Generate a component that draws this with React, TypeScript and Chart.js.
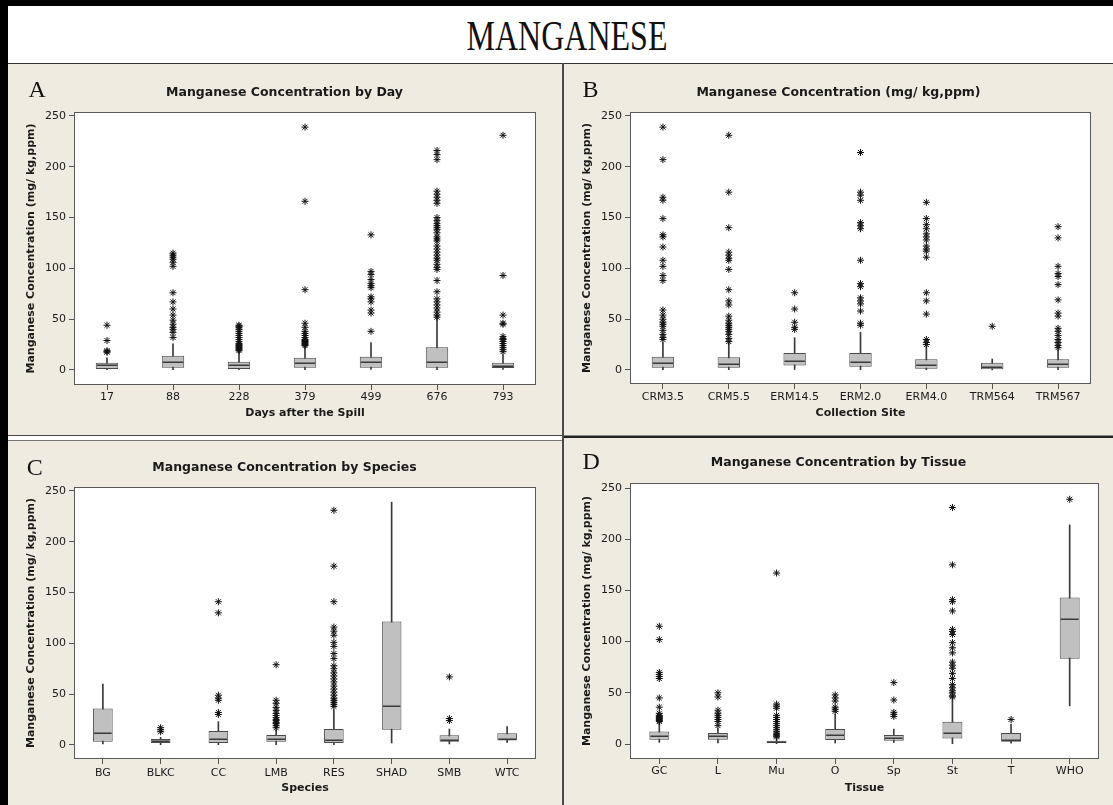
import React, { useEffect, useRef } from 'react';
import { Chart, registerables } from 'chart.js';

Chart.register(...registerables);

// ---------- DATA ----------
const Y_TICKS = [0, 50, 100, 150, 200, 250];
const Y_TITLE = 'Manganese Concentration (mg/ kg,ppm)';

// Panel A: by day
const DAY_CATS = ['17', '88', '228', '379', '499', '676', '793'];
const DAY_Q1 = [1.0, 2.3, 1.0, 2.3, 2.3, 2.3, 2.0];
const DAY_MED = [4.6, 7.5, 4.9, 6.6, 7.5, 7.5, 4.3];
const DAY_Q3 = [7.2, 14.1, 8.2, 12.1, 13.1, 22.3, 7.2];
const DAY_LO = [0.3, 0.2, 0.2, 0.2, 0.5, 0.3, 0.5];
const DAY_HI = [12, 25.6, 17.4, 23, 27, 51, 15];
const DAY_OUT = [
  [44, 29, 19, 18, 17.5],
  [115, 113, 111, 109, 106, 102, 76, 67, 60, 54, 49, 45, 42, 40, 37, 32],
  [44, 43, 42, 40, 38, 36, 34, 32, 30, 28, 26, 25, 24, 23, 22, 21, 20, 19],
  [239, 166, 79, 46, 42, 38, 36, 34, 32, 30, 29, 28, 27, 26, 25, 24],
  [133, 97, 94, 89, 85, 83, 81, 72, 70, 67, 59, 56, 38],
  [216, 212, 207, 176, 173, 170, 167, 164, 150, 147, 144, 142, 140, 138, 135, 131, 129, 127, 122, 119, 116, 113, 110, 108, 104, 101, 99, 88, 77, 70, 67, 64, 61, 57, 54, 52],
  [231, 93, 54, 46, 45, 33, 31, 30, 28, 26, 24, 22, 20, 18],
];

// Panel B: by collection site
const SITE_CATS = ['CRM3.5', 'CRM5.5', 'ERM14.5', 'ERM2.0', 'ERM4.0', 'TRM564', 'TRM567'];
const SITE_Q1 = [2.3, 2.3, 4.3, 3.3, 1.3, 0.7, 2.3];
const SITE_MED = [6.6, 5.9, 9.2, 8.2, 4.9, 3.3, 5.9];
const SITE_Q3 = [13.1, 12.5, 16.7, 16.7, 10.5, 7.2, 10.5];
const SITE_LO = [0.3, 0.3, 0, 0.3, 0.2, 0.1, 0.3];
const SITE_HI = [27, 27, 31.8, 37, 23, 10.8, 19.7];
const SITE_OUT = [
  [239, 207, 170, 167, 149, 133, 131, 121, 108, 102, 93, 88, 59, 54, 50, 47, 45, 43, 39, 35, 32, 30],
  [231, 175, 140, 116, 113, 110, 108, 99, 79, 68, 64, 53, 49, 46, 44, 42, 40, 38, 35, 31, 28],
  [76, 60, 47, 42, 40],
  [214, 175, 172, 167, 145, 142, 139, 108, 85, 82, 71, 68, 65, 58, 46, 44],
  [165, 149, 143, 139, 134, 131, 128, 122, 119, 117, 111, 76, 68, 55, 30, 27, 25],
  [43],
  [141, 130, 102, 95, 92, 84, 69, 56, 53, 41, 38, 34, 30, 27, 24, 22],
];

// Panel C: by species
const SPECIES_CATS = ['BG', 'BLKC', 'CC', 'LMB', 'RES', 'SHAD', 'SMB', 'WTC'];
const SPECIES_Q1 = [3.3, 2.0, 2.0, 3.3, 2.0, 15.1, 3.3, 4.3];
const SPECIES_MED = [11.8, 4.3, 5.9, 5.9, 4.6, 38.7, 5.2, 5.9];
const SPECIES_Q3 = [36, 5.9, 13.8, 9.8, 15.7, 121.6, 9.5, 11.5];
const SPECIES_LO = [1, 0.2, 0.3, 0.2, 0.3, 2, 1, 2.6];
const SPECIES_HI = [60, 7.5, 23, 15, 34.7, 239, 15.7, 18];
const SPECIES_OUT = [
  [],
  [17, 15, 13],
  [141, 130, 49, 46, 44, 32, 30],
  [79, 44, 41, 37, 34, 31, 29, 27, 25, 24, 22, 21, 19, 17],
  [231, 176, 141, 116, 112, 108, 101, 97, 90, 85, 78, 75, 71, 68, 65, 62, 58, 55, 52, 49, 46, 44, 42, 40, 38],
  [],
  [67, 26, 24],
  [],
];

// Panel D: by tissue
const TISSUE_CATS = ['GC', 'L', 'Mu', 'O', 'Sp', 'St', 'T', 'WHO'];
const TISSUE_Q1 = [4.2, 4.2, 1.0, 3.9, 3.2, 5.5, 2.3, 83.4];
const TISSUE_MED = [8.1, 8.1, 1.6, 8.8, 5.5, 10.4, 4.2, 121.8];
const TISSUE_Q3 = [12.3, 10.7, 3.2, 14.6, 8.8, 21.8, 10.7, 143];
const TISSUE_LO = [1.6, 1.0, 0.3, 1.0, 1.5, 0.3, 0.8, 37.3];
const TISSUE_HI = [21, 15, 6.5, 29, 14.6, 44, 19.5, 214];
const TISSUE_OUT = [
  [115, 102, 70, 68, 66, 64, 45, 36, 30, 28, 27, 26, 25, 24, 23, 22],
  [50, 46, 33, 30, 28, 26, 24, 22, 18],
  [167, 39, 37, 35, 28, 26, 24, 22, 20, 18, 16, 14, 12, 10, 9, 8, 7],
  [48, 45, 42, 36, 34, 32],
  [60, 43, 31, 29, 27],
  [231, 175, 141, 139, 130, 112, 110, 107, 99, 94, 89, 80, 77, 74, 69, 64, 58, 55, 52, 50, 47, 46],
  [24],
  [239],
];

// ---------- STYLE ----------
const SANS = "'DejaVu Sans', Verdana, sans-serif";
const SERIF = "'Liberation Serif', 'Times New Roman', serif";
const BEIGE = '#efebe1';
const TEXT = '#1a1a1a';

type Spec = {
  letter: string;
  title: string;
  xTitle: string;
  cats: string[];
  q1: number[];
  med: number[];
  q3: number[];
  lo: number[];
  hi: number[];
  out: number[][];
  left: number;
  top: number;
  w: number;
  h: number;
  rightGap: number;
  xh: number;
  titleTop: number;
  titleBottom: number;
  xTickPad: number;
  xTitleBottom: number;
  yMin: number;
  yMax: number;
  letterX: number;
  letterY: number;
};

const PANELS: Spec[] = [
  {
    letter: 'A', title: 'Manganese Concentration by Day', xTitle: 'Days after the Spill',
    cats: DAY_CATS, q1: DAY_Q1, med: DAY_MED, q3: DAY_Q3, lo: DAY_LO, hi: DAY_HI, out: DAY_OUT,
    left: 8, top: 64, w: 553, h: 371, rightGap: 25, xh: 50, titleTop: 21.5, titleBottom: 11.5,
    xTickPad: 0.4, xTitleBottom: 15.4, yMin: -14.8, yMax: 253.9, letterX: 20.6, letterY: 12.8,
  },
  {
    letter: 'B', title: 'Manganese Concentration (mg/ kg,ppm)', xTitle: 'Collection Site',
    cats: SITE_CATS, q1: SITE_Q1, med: SITE_MED, q3: SITE_Q3, lo: SITE_LO, hi: SITE_HI, out: SITE_OUT,
    left: 564, top: 64, w: 549, h: 371, rightGap: 22, xh: 51, titleTop: 21.5, titleBottom: 11.5,
    xTickPad: 1.4, xTitleBottom: 15.4, yMin: -13.8, yMax: 253.9, letterX: 18.6, letterY: 12.8,
  },
  {
    letter: 'C', title: 'Manganese Concentration by Species', xTitle: 'Species',
    cats: SPECIES_CATS, q1: SPECIES_Q1, med: SPECIES_MED, q3: SPECIES_Q3, lo: SPECIES_LO, hi: SPECIES_HI, out: SPECIES_OUT,
    left: 8, top: 441, w: 553, h: 364, rightGap: 25, xh: 46, titleTop: 19.5, titleBottom: 11.5,
    xTickPad: 2.1, xTitleBottom: 10.4, yMin: -13.8, yMax: 253.9, letterX: 18.8, letterY: 13.8,
  },
  {
    letter: 'D', title: 'Manganese Concentration by Tissue', xTitle: 'Tissue',
    cats: TISSUE_CATS, q1: TISSUE_Q1, med: TISSUE_MED, q3: TISSUE_Q3, lo: TISSUE_LO, hi: TISSUE_HI, out: TISSUE_OUT,
    left: 564, top: 438, w: 549, h: 367, rightGap: 14, xh: 46, titleTop: 17.5, titleBottom: 12.5,
    xTickPad: 0.4, xTitleBottom: 10.4, yMin: -14.6, yMax: 254.9, letterX: 18.6, letterY: 10.8,
  },
];

function boxPlugin(med: number[]) {
  return {
    id: 'boxExtras',
    beforeDraw(chart: any) {
      const { ctx, chartArea } = chart;
      ctx.save();
      ctx.fillStyle = '#ffffff';
      ctx.fillRect(chartArea.left, chartArea.top, chartArea.right - chartArea.left, chartArea.bottom - chartArea.top);
      ctx.restore();
    },
    afterDatasetsDraw(chart: any) {
      const { ctx, chartArea } = chart;
      const meta = chart.getDatasetMeta(1);
      const y = chart.scales.y;
      ctx.save();
      ctx.strokeStyle = '#3a3a3a';
      ctx.lineWidth = 1.5;
      meta.data.forEach((el: any, i: number) => {
        const p = el.getProps(['x', 'width'], true);
        const py = Math.round(y.getPixelForValue(med[i])) + 0.25;
        ctx.beginPath();
        ctx.moveTo(p.x - p.width / 2 + 1, py);
        ctx.lineTo(p.x + p.width / 2 - 1, py);
        ctx.stroke();
      });
      ctx.strokeStyle = '#5a5a5a';
      ctx.lineWidth = 1;
      ctx.strokeRect(
        Math.round(chartArea.left) + 0.5,
        Math.round(chartArea.top) + 0.5,
        Math.round(chartArea.right - chartArea.left) - 1,
        Math.round(chartArea.bottom - chartArea.top) - 1
      );
      ctx.restore();
    },
  };
}

function BoxChart({ spec }: { spec: Spec }) {
  const ref = useRef<HTMLCanvasElement>(null);
  useEffect(() => {
    if (!ref.current) return;
    const outliers = spec.out.flatMap((arr, i) => arr.map((v) => ({ x: spec.cats[i], y: v })));
    const chart = new Chart(ref.current, {
      type: 'bar',
      data: {
        labels: spec.cats,
        datasets: [
          {
            type: 'scatter',
            label: 'Outliers',
            data: outliers as any,
            pointStyle: 'star',
            radius: 3.5,
            borderColor: '#111',
            backgroundColor: '#111',
            borderWidth: 1,
            order: 0,
          } as any,
          {
            type: 'bar',
            label: 'Q1-Q3',
            data: spec.q1.map((v, i) => [v, spec.q3[i]]) as any,
            backgroundColor: '#c0c0c0',
            borderColor: '#4a4a4a',
            borderWidth: 1,
            borderSkipped: false,
            barPercentage: 0.34,
            categoryPercentage: 1,
            grouped: false,
            order: 1,
          } as any,
          {
            type: 'bar',
            label: 'Whiskers',
            data: spec.lo.map((v, i) => [v, spec.hi[i]]) as any,
            backgroundColor: '#3a3a3a',
            barThickness: 1,
            grouped: false,
            order: 2,
          } as any,
        ],
      },
      options: {
        animation: false,
        responsive: false,
        devicePixelRatio: 1,
        layout: { padding: 0 },
        plugins: {
          legend: { display: false },
          tooltip: { enabled: false },
          title: {
            display: true,
            text: spec.title,
            color: TEXT,
            font: { family: SANS, size: 12.5, weight: 'bold' },
            padding: { top: spec.titleTop, bottom: spec.titleBottom },
          },
        },
        scales: {
          x: {
            type: 'category',
            offset: true,
            grid: { display: true, drawOnChartArea: false, drawTicks: true, tickLength: 5, offset: false, color: '#555' },
            border: { display: false },
            ticks: { color: TEXT, font: { family: SANS, size: 11 }, padding: spec.xTickPad, maxRotation: 0, autoSkip: false },
            title: {
              display: true,
              text: spec.xTitle,
              color: TEXT,
              font: { family: SANS, size: 11, weight: 'bold' },
              padding: { top: 0, bottom: spec.xTitleBottom },
            },
            afterFit: (s: any) => { s.height = spec.xh; },
          },
          y: {
            type: 'linear',
            min: spec.yMin,
            max: spec.yMax,
            afterBuildTicks: (s: any) => { s.ticks = Y_TICKS.map((v) => ({ value: v })); },
            grid: { display: true, drawOnChartArea: false, drawTicks: true, tickLength: 5, color: '#555' },
            border: { display: false },
            ticks: { color: TEXT, font: { family: SANS, size: 11 }, padding: 3 },
            title: {
              display: true,
              text: Y_TITLE,
              color: TEXT,
              font: { family: SANS, size: 11, weight: 'bold' },
              padding: { top: 16.4, bottom: 0 },
            },
            afterFit: (s: any) => { s.width = 66; },
          },
          yR: {
            type: 'linear',
            position: 'right',
            display: true,
            grid: { display: false },
            border: { display: false },
            ticks: { display: false },
            afterFit: (s: any) => { s.width = spec.rightGap; },
          },
        },
      } as any,
      plugins: [boxPlugin(spec.med)],
    });
    return () => chart.destroy();
  }, [spec]);

  return (
    <div style={{ position: 'absolute', left: spec.left, top: spec.top, width: spec.w + 1, height: spec.h, background: BEIGE }}>
      <canvas ref={ref} width={spec.w} height={spec.h} style={{ position: 'absolute', left: 0, top: 0, width: spec.w, height: spec.h }} />
      <div
        style={{
          position: 'absolute', left: spec.letterX, top: spec.letterY, fontFamily: SERIF, fontSize: 24,
          lineHeight: '24px', color: '#111', whiteSpace: 'nowrap',
        }}
      >
        {spec.letter}
      </div>
    </div>
  );
}

export default function App() {
  return (
    <div style={{ position: 'absolute', left: 0, top: 0, width: 1113, height: 805, background: '#fff', overflow: 'hidden' }}>
      <div style={{ position: 'absolute', left: 0, top: 0, width: 1113, height: 6, background: '#000' }} />
      <div style={{ position: 'absolute', left: 0, top: 0, width: 8, height: 805, background: '#000' }} />
      <div
        style={{
          position: 'absolute', left: 267, top: 19.8, width: 600, textAlign: 'center', fontFamily: SERIF,
          fontSize: 32, lineHeight: '32px', color: '#111', transform: 'scaleY(1.32)', transformOrigin: '50% 16.2px',
        }}
      >
        MANGANESE
      </div>
      <div style={{ position: 'absolute', left: 8, top: 63, width: 1105, height: 1, background: '#333' }} />
      {PANELS.map((p) => (
        <BoxChart key={p.letter} spec={p} />
      ))}
      <div style={{ position: 'absolute', left: 562, top: 63, width: 2, height: 742, background: '#4a4a4a' }} />
      <div style={{ position: 'absolute', left: 8, top: 435, width: 554, height: 1, background: '#444' }} />
      <div style={{ position: 'absolute', left: 8, top: 440, width: 554, height: 1, background: '#777' }} />
      <div style={{ position: 'absolute', left: 564, top: 435, width: 549, height: 1, background: '#888' }} />
      <div style={{ position: 'absolute', left: 564, top: 436, width: 549, height: 2, background: '#222' }} />
    </div>
  );
}
